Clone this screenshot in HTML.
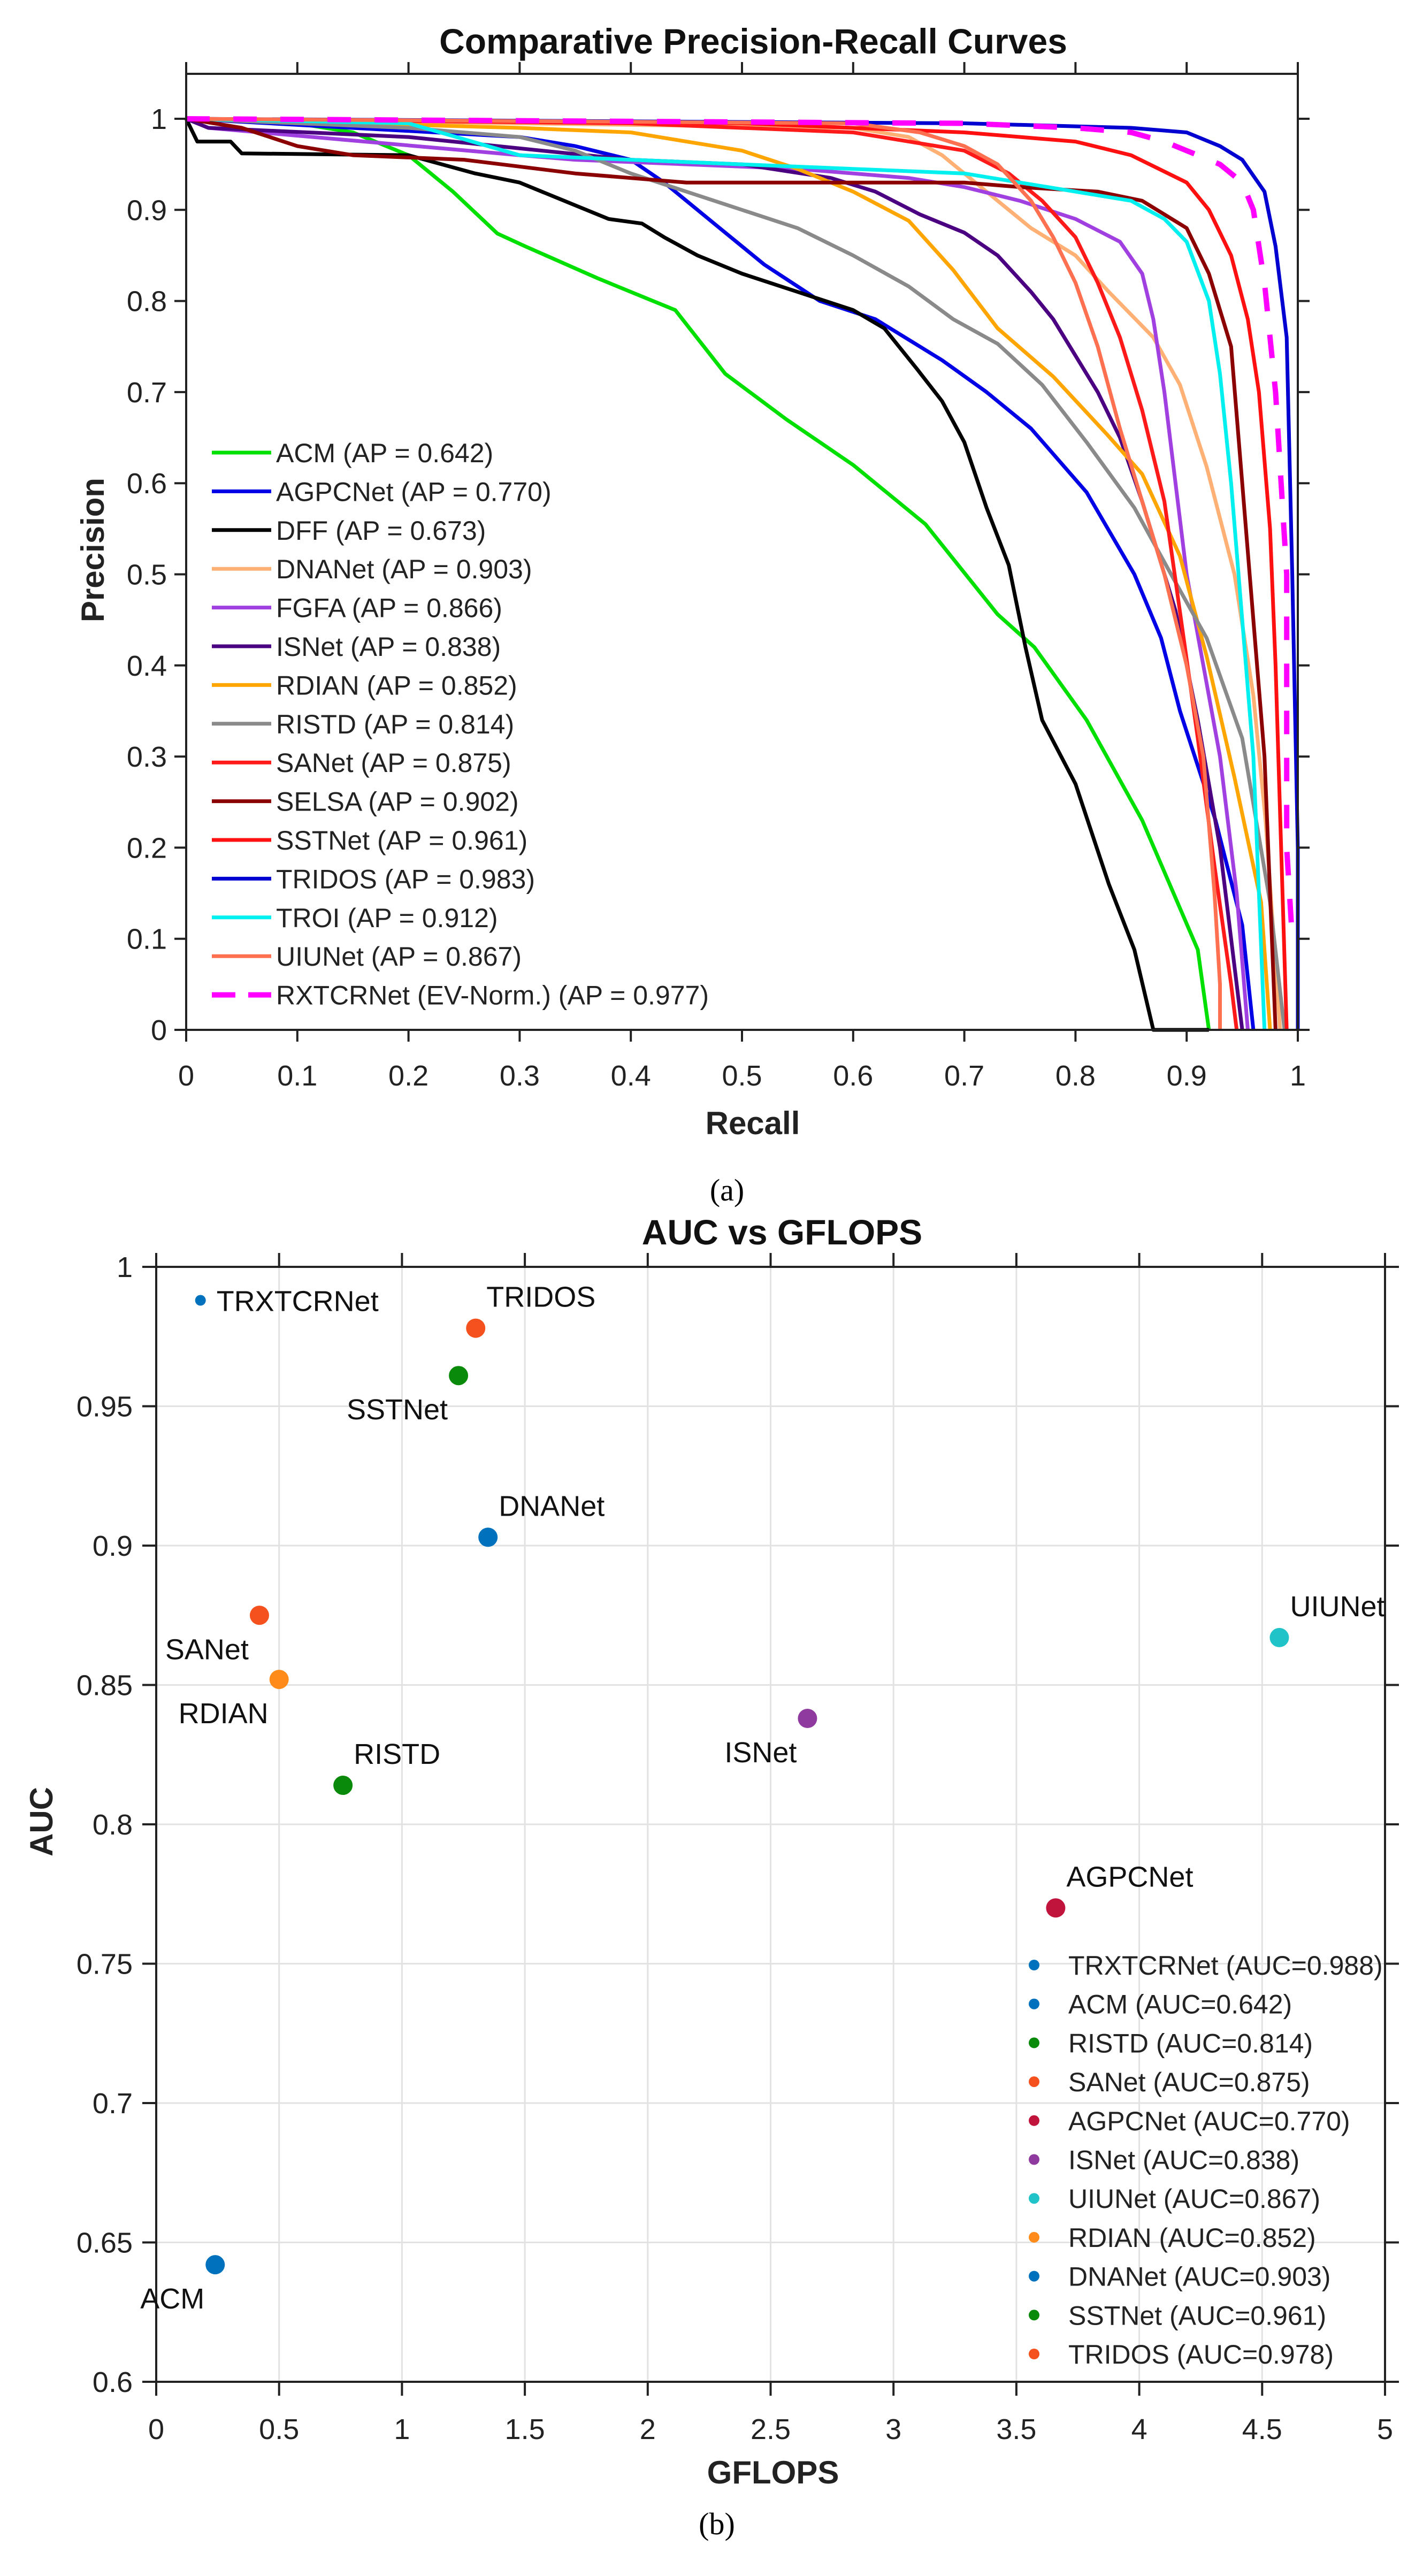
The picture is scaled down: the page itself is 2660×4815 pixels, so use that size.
<!DOCTYPE html>
<html><head><meta charset="utf-8"><title>PR curves and AUC vs GFLOPS</title>
<style>
html,body{margin:0;padding:0;background:#fff;}
svg{display:block;font-family:"Liberation Sans","DejaVu Sans",sans-serif;}
</style></head>
<body>
<svg id="fig" xmlns="http://www.w3.org/2000/svg" width="2660" height="4815" viewBox="0 0 2660 4815">
<rect width="2660" height="4815" fill="#fff"/>
<g id="prChart"></g>
<g id="aucChart"></g>
</svg>
<script>
// ---------- PR chart data ----------
const prNames = ["ACM","AGPCNet","DFF","DNANet","FGFA","ISNet","RDIAN","RISTD","SANet","SELSA","SSTNet","TRIDOS","TROI","UIUNet","RXTCRNet (EV-Norm.)"];
const prAP = ["0.642","0.770","0.673","0.903","0.866","0.838","0.852","0.814","0.875","0.902","0.961","0.983","0.912","0.867","0.977"];
const prColors = ["#00e000","#0000e6","#000000","#ffb074","#a040e0","#4b0082","#ffa500","#8a8a8a","#ff1a1a","#8b0000","#ff1010","#0000d0","#00f0f0","#ff7050","#ff00ff"];
const recallACM = [0,0.1,0.15,0.2,0.24,0.28,0.305,0.37,0.4,0.44,0.485,0.54,0.6,0.665,0.73,0.763,0.81,0.86,0.91,0.92];
const precACM = [1,0.995,0.985,0.96,0.92,0.874,0.86,0.825,0.81,0.79,0.72,0.67,0.62,0.555,0.456,0.42,0.34,0.23,0.088,0];
const recallAGPC = [0,0.3,0.35,0.4,0.43,0.48,0.52,0.57,0.62,0.68,0.72,0.76,0.81,0.853,0.877,0.894,0.926,0.95,0.96];
const precAGPC = [1,0.98,0.97,0.955,0.93,0.88,0.84,0.8,0.78,0.735,0.7,0.66,0.59,0.5,0.43,0.35,0.23,0.115,0];
const recallDFF = [0,0.01,0.04,0.05,0.2,0.26,0.3,0.34,0.38,0.41,0.43,0.46,0.5,0.55,0.6,0.628,0.657,0.68,0.7,0.72,0.74,0.755,0.77,0.8,0.83,0.853,0.87,0.92];
const precDFF = [1,0.975,0.975,0.962,0.96,0.94,0.93,0.91,0.89,0.885,0.87,0.85,0.83,0.81,0.79,0.77,0.726,0.69,0.645,0.573,0.51,0.42,0.34,0.27,0.16,0.088,0,0];
const recallDNA = [0,0.6,0.65,0.68,0.7,0.73,0.76,0.8,0.83,0.87,0.894,0.918,0.943,0.96,0.971,0.984];
const precDNA = [1,0.99,0.98,0.96,0.94,0.91,0.88,0.85,0.81,0.76,0.708,0.618,0.5,0.367,0.23,0];
const recallFGFA = [0,0.02,0.3,0.35,0.55,0.65,0.7,0.75,0.8,0.84,0.86,0.87,0.88,0.89,0.9,0.915,0.93,0.945,0.955];
const precFGFA = [1,0.99,0.96,0.955,0.945,0.935,0.925,0.91,0.89,0.865,0.83,0.78,0.7,0.6,0.5,0.4,0.3,0.15,0];
const recallISN = [0,0.02,0.2,0.4,0.5,0.58,0.62,0.66,0.7,0.73,0.76,0.78,0.8,0.82,0.84,0.86,0.89,0.91,0.93,0.945,0.95];
const precISN = [1,0.99,0.98,0.955,0.95,0.935,0.92,0.895,0.875,0.85,0.81,0.78,0.74,0.7,0.65,0.58,0.46,0.34,0.2,0.05,0];
const recallRDIAN = [0,0.3,0.4,0.45,0.5,0.55,0.6,0.65,0.69,0.73,0.78,0.828,0.86,0.894,0.918,0.943,0.967,0.975];
const precRDIAN = [1,0.99,0.985,0.975,0.965,0.945,0.92,0.888,0.834,0.77,0.717,0.654,0.61,0.52,0.41,0.277,0.14,0];
const recallRISTD = [0,0.2,0.3,0.35,0.4,0.45,0.5,0.55,0.6,0.65,0.69,0.73,0.77,0.81,0.853,0.886,0.918,0.95,0.975,0.988];
const precRISTD = [1,0.99,0.98,0.965,0.94,0.92,0.9,0.88,0.85,0.816,0.78,0.753,0.708,0.645,0.573,0.5,0.43,0.32,0.14,0];
const recallSAN = [0,0.4,0.6,0.7,0.74,0.77,0.8,0.82,0.84,0.86,0.88,0.895,0.91,0.925,0.94,0.945];
const precSAN = [1,0.995,0.985,0.965,0.94,0.91,0.87,0.82,0.76,0.68,0.58,0.45,0.32,0.18,0.05,0];
const recallSELSA = [0,0.05,0.1,0.15,0.25,0.35,0.45,0.6,0.7,0.75,0.82,0.86,0.9,0.92,0.94,0.95,0.96,0.97,0.975,0.98];
const precSELSA = [1,0.99,0.97,0.96,0.955,0.94,0.93,0.93,0.93,0.925,0.92,0.91,0.88,0.83,0.75,0.6,0.45,0.3,0.15,0];
const recallSST = [0,0.5,0.7,0.8,0.85,0.9,0.92,0.94,0.955,0.965,0.975,0.98,0.985,0.99];
const precSST = [1,0.995,0.985,0.975,0.96,0.93,0.9,0.85,0.78,0.7,0.55,0.4,0.2,0];
const recallTRIDOS = [0,0.7,0.85,0.9,0.93,0.95,0.97,0.98,0.99,0.995,1.0,1.0];
const precTRIDOS = [1,0.995,0.99,0.985,0.97,0.955,0.92,0.86,0.76,0.5,0.2,0];
const recallTROI = [0,0.2,0.3,0.4,0.5,0.6,0.7,0.75,0.8,0.85,0.88,0.9,0.92,0.93,0.94,0.95,0.96,0.965,0.97];
const precTROI = [1,0.995,0.96,0.955,0.95,0.945,0.94,0.93,0.92,0.91,0.89,0.865,0.8,0.72,0.6,0.45,0.3,0.15,0];
const recallUIU = [0,0.6,0.66,0.7,0.73,0.76,0.78,0.8,0.82,0.84,0.86,0.88,0.9,0.915,0.925,0.93,0.93];
const precUIU = [1,0.995,0.985,0.97,0.95,0.91,0.87,0.82,0.75,0.66,0.58,0.5,0.4,0.3,0.15,0.05,0];
const recallRXT = [0,0.7,0.8,0.85,0.88,0.9,0.93,0.95,0.96,0.97,0.98,0.99,0.99,0.995];
const precRXT = [1,0.995,0.99,0.985,0.975,0.965,0.95,0.93,0.9,0.82,0.7,0.5,0.2,0.1];
const prRecalls = [recallACM,recallAGPC,recallDFF,recallDNA,recallFGFA,recallISN,recallRDIAN,recallRISTD,recallSAN,recallSELSA,recallSST,recallTRIDOS,recallTROI,recallUIU,recallRXT];
const prPrecisions = [precACM,precAGPC,precDFF,precDNA,precFGFA,precISN,precRDIAN,precRISTD,precSAN,precSELSA,precSST,precTRIDOS,precTROI,precUIU,precRXT];
const prTicks = [0,0.1,0.2,0.3,0.4,0.5,0.6,0.7,0.8,0.9,1];
const prTickLabels = ["0","0.1","0.2","0.3","0.4","0.5","0.6","0.7","0.8","0.9","1"];

// ---------- AUC chart data ----------
const aucNames = ["TRXTCRNet","ACM","RISTD","SANet","AGPCNet","ISNet","UIUNet","RDIAN","DNANet","SSTNet","TRIDOS"];
const aucGflops = [0.18,0.24,0.76,0.42,3.66,2.65,4.57,0.5,1.35,1.23,1.3];
const aucValues = [0.988,0.642,0.814,0.875,0.770,0.838,0.867,0.852,0.903,0.961,0.978];
const aucLegendText = ["0.988","0.642","0.814","0.875","0.770","0.838","0.867","0.852","0.903","0.961","0.978"];
const aucColors = ["#0072bd","#0072bd","#0a8a0a","#f4511e","#c0143c","#8e3a9e","#1fc3c8","#ff8c1a","#0072bd","#0a8a0a","#f4511e"];
const aucLabelSide = ["r","bl","ar","bl","ar","bl","ar","bl","ar","bl","ar"];
const aucXTicks = [0,0.5,1,1.5,2,2.5,3,3.5,4,4.5,5];
const aucXTickLabels = ["0","0.5","1","1.5","2","2.5","3","3.5","4","4.5","5"];
const aucYTicks = [0.6,0.65,0.7,0.75,0.8,0.85,0.9,0.95,1];
const aucYTickLabels = ["0.6","0.65","0.7","0.75","0.8","0.85","0.9","0.95","1"];

const NS = "http://www.w3.org/2000/svg";
function mk(tag, attrs, parent, text){
  const e = document.createElementNS(NS, tag);
  for (const k in attrs) e.setAttribute(k, attrs[k]);
  if (text !== undefined) e.textContent = text;
  parent.appendChild(e);
  return e;
}

// ---------- PR chart ----------
(function(){
  const g = document.getElementById('prChart');
  const L=348, R=2426, T=138, Y1=222, B=1925;
  const sx = v => L + v*(R-L);
  const sy = v => B - v*(B-Y1);
  let t = mk('text',{x:1408,y:100,'text-anchor':'middle','font-size':66,'font-weight':'bold',fill:'#111'},g,'Comparative Precision-Recall Curves');
  
  
  // series
  for (let i=0;i<prNames.length;i++){
    const pts = prRecalls[i].map((r,j)=>sx(r).toFixed(1)+','+sy(prPrecisions[i][j]).toFixed(1)).join(' ');
    const attrs = {points:pts,fill:'none',stroke:prColors[i],'stroke-width':i===14?10:7,'stroke-linejoin':'round'};
    if (i===14) attrs['stroke-dasharray']='44 44';
    const pl = mk('polyline',attrs,g);
    
    
  }
  // box
  const box = mk('rect',{x:L,y:T,width:R-L,height:B-T,fill:'none',stroke:'#222','stroke-width':4},g);
  
  
  // ticks
  for (let i=0;i<prTicks.length;i++){
    const x = sx(prTicks[i]);
    mk('line',{x1:x,y1:B,x2:x,y2:B+22,stroke:'#222','stroke-width':4},g);
    mk('line',{x1:x,y1:T,x2:x,y2:T-22,stroke:'#222','stroke-width':4},g);
    const xl = mk('text',{x:x,y:2029,'text-anchor':'middle','font-size':54,fill:'#222'},g,prTickLabels[i]);
    
    
    const y = sy(prTicks[i]);
    mk('line',{x1:L,y1:y,x2:L-22,y2:y,stroke:'#222','stroke-width':4},g);
    mk('line',{x1:R,y1:y,x2:R+22,y2:y,stroke:'#222','stroke-width':4},g);
    const yl = mk('text',{x:312,y:y+19,'text-anchor':'end','font-size':54,fill:'#222'},g,prTickLabels[i]);
    
    
  }
  t = mk('text',{x:1407,y:2120,'text-anchor':'middle','font-size':60,'font-weight':'bold',fill:'#222'},g,'Recall');
  
  
  t = mk('text',{x:0,y:0,'text-anchor':'middle','font-size':60,'font-weight':'bold',fill:'#222',transform:'translate(194,1028) rotate(-90)'},g,'Precision');
  
  
  // legend
  for (let i=0;i<prNames.length;i++){
    const y = 846 + i*72.4;
    const la = {x1:396,y1:y,x2:507,y2:y,stroke:prColors[i],'stroke-width':i===14?10:7};
    if (i===14) la['stroke-dasharray']='44 24';
    const ln = mk('line',la,g);
    
    
    const lt = mk('text',{x:516,y:y+18,'font-size':50,fill:'#222'},g,prNames[i]+' (AP = '+prAP[i]+')');
    
    
  }
  t = mk('text',{x:1359,y:2244,'text-anchor':'middle','font-size':58,fill:'#000','font-family':'Liberation Serif, serif'},g,'(a)');
  
  
})();

// ---------- AUC chart ----------
(function(){
  const g = document.getElementById('aucChart');
  const L=292, R=2589, T=2368, B=4452;
  const sx = v => L + (v/5)*(R-L);
  const sy = v => B - ((v-0.6)/0.4)*(B-T);
  let t = mk('text',{x:1462,y:2326,'text-anchor':'middle','font-size':66,'font-weight':'bold',fill:'#111'},g,'AUC vs GFLOPS');
  
  
  // grid
  for (let i=0;i<aucXTicks.length;i++){
    const x=sx(aucXTicks[i]);
    mk('line',{x1:x,y1:T,x2:x,y2:B,stroke:'#e2e2e2','stroke-width':3},g);
  }
  for (let i=0;i<aucYTicks.length;i++){
    const y=sy(aucYTicks[i]);
    mk('line',{x1:L,y1:y,x2:R,y2:y,stroke:'#e2e2e2','stroke-width':3},g);
  }
  const box = mk('rect',{x:L,y:T,width:R-L,height:B-T,fill:'none',stroke:'#222','stroke-width':4},g);
  
  
  for (let i=0;i<aucXTicks.length;i++){
    const x=sx(aucXTicks[i]);
    mk('line',{x1:x,y1:B,x2:x,y2:B+26,stroke:'#222','stroke-width':4},g);
    mk('line',{x1:x,y1:T,x2:x,y2:T-26,stroke:'#222','stroke-width':4},g);
    const xl = mk('text',{x:x,y:4559,'text-anchor':'middle','font-size':54,fill:'#222'},g,aucXTickLabels[i]);
    
    
  }
  for (let i=0;i<aucYTicks.length;i++){
    const y=sy(aucYTicks[i]);
    mk('line',{x1:L,y1:y,x2:L-26,y2:y,stroke:'#222','stroke-width':4},g);
    mk('line',{x1:R,y1:y,x2:R+26,y2:y,stroke:'#222','stroke-width':4},g);
    const yl = mk('text',{x:248,y:y+19,'text-anchor':'end','font-size':54,fill:'#222'},g,aucYTickLabels[i]);
    
    
  }
  // points + labels
  for (let i=0;i<aucNames.length;i++){
    const cx=sx(aucGflops[i]), cy=sy(aucValues[i]);
    const c = mk('circle',{cx:cx,cy:cy,r:i===0?10:18,fill:aucColors[i]},g);
    
    
    let lx,ly,anc;
    if (aucLabelSide[i]==='r'){lx=cx+30;ly=cy+20;anc='start';}
    else if (aucLabelSide[i]==='ar'){lx=cx+20;ly=cy-40;anc='start';}
    else {lx=cx-20;ly=cy+82;anc='end';}
    const lb = mk('text',{x:lx,y:ly,'text-anchor':anc,'font-size':54,fill:'#111'},g,aucNames[i]);
    
    
  }
  // legend
  for (let i=0;i<aucNames.length;i++){
    const y = 3673 + i*72.7;
    const m = mk('circle',{cx:1933,cy:y,r:10,fill:aucColors[i]},g);
    
    
    const lt = mk('text',{x:1997,y:y+18,'font-size':50,fill:'#222'},g,aucNames[i]+' (AUC='+aucLegendText[i]+')');
    
    
  }
  t = mk('text',{x:1445,y:4642,'text-anchor':'middle','font-size':60,'font-weight':'bold',fill:'#222'},g,'GFLOPS');
  
  
  t = mk('text',{x:0,y:0,'text-anchor':'middle','font-size':60,'font-weight':'bold',fill:'#222',transform:'translate(98,3405) rotate(-90)'},g,'AUC');
  
  
  t = mk('text',{x:1340,y:4737,'text-anchor':'middle','font-size':58,fill:'#000','font-family':'Liberation Serif, serif'},g,'(b)');
  
  
})();
</script>
</body></html>
